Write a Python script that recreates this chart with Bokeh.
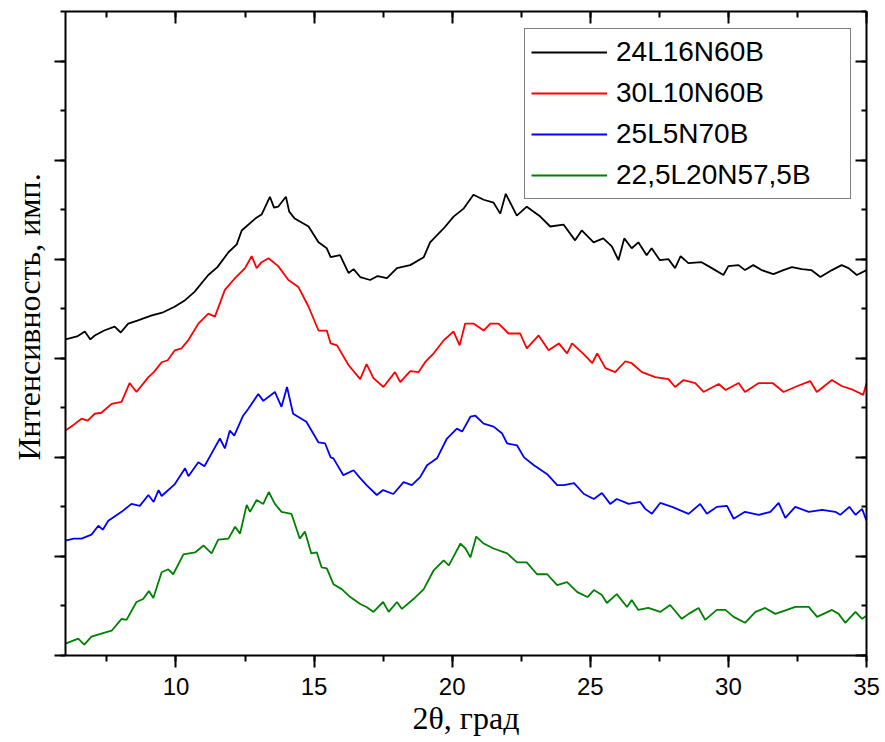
from bokeh.embed import file_html
from bokeh.models import (ColumnDataSource, CustomJSTickFormatter, Legend, LegendItem,
                          LinearAxis, Range1d, SingleIntervalTicker, Title)
from bokeh.plotting import figure
from bokeh.resources import INLINE

# XRD patterns: (2theta in degrees, intensity in arbitrary units, curves offset vertically)
SERIES_NAMES = ["24L16N60B", "30L10N60B", "25L5N70B", "22,5L20N57,5B"]
SERIES_COLORS = ["#000000", "#ff0000", "#0000ff", "#008000"]

BLACK = [
    (6.0, 3.19), (6.42, 3.22), (6.7, 3.27), (6.9, 3.19), (7.06, 3.23), (7.4, 3.28),
    (7.78, 3.32), (8.0, 3.26), (8.27, 3.35), (8.6, 3.38), (9.1, 3.43), (9.5, 3.46),
    (9.95, 3.52), (10.3, 3.58), (10.67, 3.67), (11.17, 3.84), (11.5, 3.92), (11.9, 4.07),
    (12.2, 4.15), (12.38, 4.29), (12.87, 4.41), (13.1, 4.45), (13.4, 4.63), (13.55, 4.52),
    (13.7, 4.53), (13.98, 4.63), (14.1, 4.48), (14.3, 4.41), (14.8, 4.33), (15.16, 4.17),
    (15.46, 4.11), (15.6, 4.02), (15.94, 4.04), (16.25, 3.86), (16.43, 3.90), (16.67, 3.82),
    (17.03, 3.79), (17.3, 3.83), (17.64, 3.81), (18.0, 3.91), (18.48, 3.94), (18.97, 4.02),
    (19.2, 4.17), (19.69, 4.31), (20.05, 4.43), (20.41, 4.51), (20.77, 4.65), (21.14, 4.60),
    (21.5, 4.57), (21.74, 4.46), (21.94, 4.66), (22.34, 4.44), (22.7, 4.53), (23.19, 4.43),
    (23.55, 4.33), (24.03, 4.35), (24.45, 4.19), (24.69, 4.29), (25.12, 4.17), (25.47, 4.21),
    (25.78, 4.13), (26.02, 3.99), (26.23, 4.21), (26.5, 4.11), (26.74, 4.17), (27.04, 4.04),
    (27.22, 4.11), (27.52, 3.99), (27.83, 4.00), (28.07, 3.91), (28.27, 4.03), (28.55, 3.96),
    (29.03, 3.97), (29.4, 3.91), (29.82, 3.84), (30.0, 3.93), (30.37, 3.94), (30.6, 3.89),
    (30.9, 3.94), (31.2, 3.89), (31.63, 3.85), (31.99, 3.89), (32.3, 3.92), (32.66, 3.90),
    (33.0, 3.89), (33.33, 3.82), (33.75, 3.89), (34.1, 3.94), (34.35, 3.91), (34.65, 3.84),
    (35.0, 3.89),
]

RED = [
    (6.0, 2.27), (6.3, 2.33), (6.58, 2.39), (6.8, 2.37), (7.06, 2.44), (7.3, 2.45),
    (7.67, 2.54), (8.03, 2.56), (8.32, 2.75), (8.57, 2.66), (9.0, 2.81), (9.2, 2.86),
    (9.48, 2.96), (9.7, 2.98), (9.96, 3.08), (10.2, 3.10), (10.44, 3.18), (10.81, 3.35),
    (11.17, 3.45), (11.41, 3.42), (11.77, 3.69), (12.14, 3.81), (12.5, 3.91), (12.74, 4.03),
    (12.92, 3.91), (13.1, 3.97), (13.35, 4.01), (13.7, 3.93), (14.07, 3.79), (14.43, 3.72),
    (14.8, 3.52), (15.16, 3.28), (15.46, 3.28), (15.6, 3.15), (15.83, 3.13), (16.25, 2.93),
    (16.67, 2.79), (16.9, 2.94), (17.15, 2.80), (17.51, 2.71), (17.93, 2.86), (18.12, 2.76),
    (18.48, 2.87), (18.78, 2.86), (19.02, 2.96), (19.33, 3.05), (19.69, 3.18), (20.05, 3.27),
    (20.27, 3.13), (20.47, 3.35), (20.77, 3.35), (21.14, 3.28), (21.38, 3.35), (21.68, 3.35),
    (22.04, 3.25), (22.46, 3.25), (22.7, 3.10), (23.13, 3.23), (23.49, 3.08), (23.86, 3.15),
    (24.16, 3.05), (24.34, 3.15), (24.77, 3.04), (25.07, 2.95), (25.25, 3.05), (25.55, 2.90),
    (25.9, 2.86), (26.27, 2.97), (26.5, 2.95), (26.87, 2.86), (27.35, 2.81), (27.83, 2.79),
    (28.07, 2.71), (28.38, 2.78), (28.8, 2.75), (29.1, 2.66), (29.65, 2.74), (29.9, 2.68),
    (30.37, 2.75), (30.6, 2.66), (31.1, 2.75), (31.6, 2.75), (32.0, 2.66), (32.5, 2.72),
    (32.96, 2.77), (33.2, 2.66), (33.75, 2.78), (34.1, 2.72), (34.52, 2.68), (34.88, 2.63),
    (35.0, 2.75),
]

BLUE = [
    (6.0, 1.16), (6.3, 1.18), (6.58, 1.18), (6.94, 1.22), (7.19, 1.31), (7.35, 1.27),
    (7.55, 1.36), (8.03, 1.45), (8.39, 1.53), (8.69, 1.51), (9.0, 1.62), (9.19, 1.55),
    (9.37, 1.67), (9.48, 1.61), (9.96, 1.73), (10.33, 1.89), (10.45, 1.81), (10.81, 1.95),
    (11.03, 1.91), (11.29, 2.04), (11.59, 2.19), (11.77, 2.09), (11.95, 2.27), (12.11, 2.22),
    (12.43, 2.42), (12.62, 2.49), (12.98, 2.64), (13.16, 2.57), (13.58, 2.66), (13.82, 2.51),
    (14.02, 2.71), (14.24, 2.44), (14.72, 2.36), (15.16, 2.15), (15.4, 2.14), (15.6, 2.00),
    (15.7, 1.99), (16.06, 1.82), (16.43, 1.87), (16.67, 1.79), (16.9, 1.72), (17.27, 1.62),
    (17.5, 1.67), (17.87, 1.63), (18.24, 1.75), (18.54, 1.72), (18.84, 1.80), (19.09, 1.92),
    (19.45, 1.99), (19.81, 2.19), (20.17, 2.29), (20.36, 2.26), (20.66, 2.41), (20.84, 2.42),
    (21.14, 2.34), (21.5, 2.31), (21.81, 2.24), (21.99, 2.14), (22.35, 2.12), (22.6, 2.00),
    (22.96, 1.92), (23.44, 1.83), (23.8, 1.72), (24.05, 1.72), (24.41, 1.74), (24.77, 1.63),
    (25.13, 1.58), (25.42, 1.64), (25.72, 1.53), (25.96, 1.58), (26.39, 1.53), (26.81, 1.55),
    (26.99, 1.48), (27.23, 1.43), (27.53, 1.54), (27.96, 1.50), (28.56, 1.43), (28.98, 1.53),
    (29.22, 1.43), (29.58, 1.50), (29.95, 1.51), (30.19, 1.38), (30.6, 1.45), (31.1, 1.42),
    (31.52, 1.45), (31.82, 1.54), (32.06, 1.39), (32.42, 1.50), (32.91, 1.45), (33.39, 1.47),
    (33.87, 1.45), (34.05, 1.42), (34.38, 1.50), (34.6, 1.42), (34.84, 1.48), (35.0, 1.36),
]

GREEN = [
    (6.0, 0.12), (6.46, 0.17), (6.68, 0.11), (6.94, 0.19), (7.42, 0.23), (7.67, 0.25),
    (8.03, 0.37), (8.21, 0.36), (8.57, 0.54), (8.81, 0.57), (9.02, 0.65), (9.18, 0.58),
    (9.48, 0.84), (9.72, 0.87), (9.9, 0.82), (10.27, 1.02), (10.69, 1.04), (11.0, 1.11),
    (11.29, 1.03), (11.53, 1.17), (11.9, 1.18), (12.14, 1.30), (12.32, 1.23), (12.56, 1.52),
    (12.68, 1.45), (12.92, 1.57), (13.16, 1.53), (13.36, 1.65), (13.58, 1.53), (13.82, 1.45),
    (14.18, 1.43), (14.48, 1.18), (14.67, 1.25), (14.9, 1.03), (15.1, 1.04), (15.27, 0.89),
    (15.46, 0.88), (15.7, 0.72), (16.0, 0.67), (16.31, 0.59), (16.67, 0.52), (16.9, 0.49),
    (17.15, 0.44), (17.5, 0.54), (17.7, 0.44), (18.0, 0.54), (18.18, 0.47), (18.6, 0.57),
    (18.97, 0.67), (19.33, 0.86), (19.69, 0.96), (19.88, 0.91), (20.3, 1.13), (20.48, 1.08),
    (20.66, 0.99), (20.87, 1.20), (21.14, 1.13), (21.5, 1.08), (21.99, 1.03), (22.35, 0.94),
    (22.7, 0.94), (23.07, 0.82), (23.44, 0.82), (23.8, 0.71), (24.16, 0.74), (24.53, 0.64),
    (24.9, 0.59), (25.13, 0.66), (25.42, 0.61), (25.6, 0.53), (25.96, 0.62), (26.33, 0.49),
    (26.5, 0.56), (26.74, 0.46), (27.1, 0.48), (27.53, 0.44), (27.89, 0.51), (28.31, 0.37),
    (28.56, 0.42), (28.92, 0.48), (29.16, 0.36), (29.58, 0.46), (29.89, 0.46), (30.19, 0.39),
    (30.6, 0.33), (30.98, 0.44), (31.33, 0.48), (31.7, 0.42), (32.12, 0.46), (32.42, 0.49),
    (32.91, 0.49), (33.21, 0.39), (33.75, 0.46), (33.99, 0.42), (34.23, 0.33), (34.6, 0.44),
    (34.84, 0.37), (35.0, 0.40),
]

X_RANGE = (6, 35)
Y_RANGE = (0, 6.5)
X_LABEL = "2θ, град"
Y_LABEL = "Интенсивность, имп."

SANS = "Liberation Sans"
SERIF = "Liberation Serif"

p = figure(
    frame_width=801, frame_height=644,
    x_range=Range1d(*X_RANGE), y_range=Range1d(*Y_RANGE),
    x_axis_location=None, y_axis_location=None,
    output_backend="svg", toolbar_location=None,
    min_border_left=64, min_border_right=20, min_border_top=11, min_border_bottom=87,
    background_fill_color="white", border_fill_color="white",
)
p.outline_line_color = None
p.grid.visible = False

blank = CustomJSTickFormatter(code="return ''")


def style_axis(ax, tick_in, tick_out, minor_in, minor_out):
    ax.axis_line_width = 2
    ax.axis_line_color = "black"
    ax.major_tick_line_width = 2
    ax.minor_tick_line_width = 2
    ax.major_tick_line_color = "black"
    ax.minor_tick_line_color = "black"
    ax.major_tick_in = tick_in
    ax.major_tick_out = tick_out
    ax.minor_tick_in = minor_in
    ax.minor_tick_out = minor_out


def x_ticker():
    return SingleIntervalTicker(interval=5, num_minor_ticks=2)


def y_ticker():
    return SingleIntervalTicker(interval=1, num_minor_ticks=2)


# bottom axis with numbers and title
xb = LinearAxis(ticker=x_ticker(), axis_label=X_LABEL)
style_axis(xb, 0, 12, 0, 6)
xb.major_label_text_font = SANS
xb.major_label_text_font_size = "24px"
xb.major_label_text_color = "black"
xb.major_label_standoff = 10
xb.axis_label_text_font = SERIF
xb.axis_label_text_font_style = "normal"
xb.axis_label_text_font_size = "32px"
xb.axis_label_text_color = "black"
xb.axis_label_standoff = 2
p.add_layout(xb, "below")

# mirrored top axis, ticks pointing inward
xt = LinearAxis(ticker=x_ticker(), formatter=blank)
style_axis(xt, 12, 0, 6, 0)
xt.major_label_standoff = 0
p.add_layout(xt, "above")

# left axis: ticks only
yl = LinearAxis(ticker=y_ticker(), formatter=blank)
style_axis(yl, 0, 11, 0, 5)
yl.major_label_standoff = 0
p.add_layout(yl, "left")

# mirrored right axis
yr = LinearAxis(ticker=y_ticker(), formatter=blank)
style_axis(yr, 11, 0, 5, 0)
yr.major_label_standoff = 0
p.add_layout(yr, "right")

# vertical intensity title, starting a little below the middle of the frame
ytitle = Title(
    text=Y_LABEL, align="left", offset=195, standoff=16,
    text_font=SERIF, text_font_size="32px", text_font_style="normal",
    text_color="black",
)
p.add_layout(ytitle, "left")

items = []
for name, color, pts in zip(SERIES_NAMES, SERIES_COLORS, [BLACK, RED, BLUE, GREEN]):
    src = ColumnDataSource(data=dict(x=[a for a, _ in pts], y=[b for _, b in pts]))
    r = p.line("x", "y", source=src, line_color=color, line_width=1.8)
    items.append(LegendItem(label=name, renderers=[r]))

legend = Legend(
    items=items, location=(459, 456),
    border_line_color="black", border_line_width=1,
    background_fill_color="white", background_fill_alpha=1,
    padding=6, spacing=7, margin=0,
    glyph_width=76, glyph_height=34, label_height=34, label_width=228,
    label_standoff=9,
    label_text_font=SANS, label_text_font_size="28px", label_text_color="black",
)
p.add_layout(legend, "center")

open("out.html", "w").write(file_html(p, INLINE))
